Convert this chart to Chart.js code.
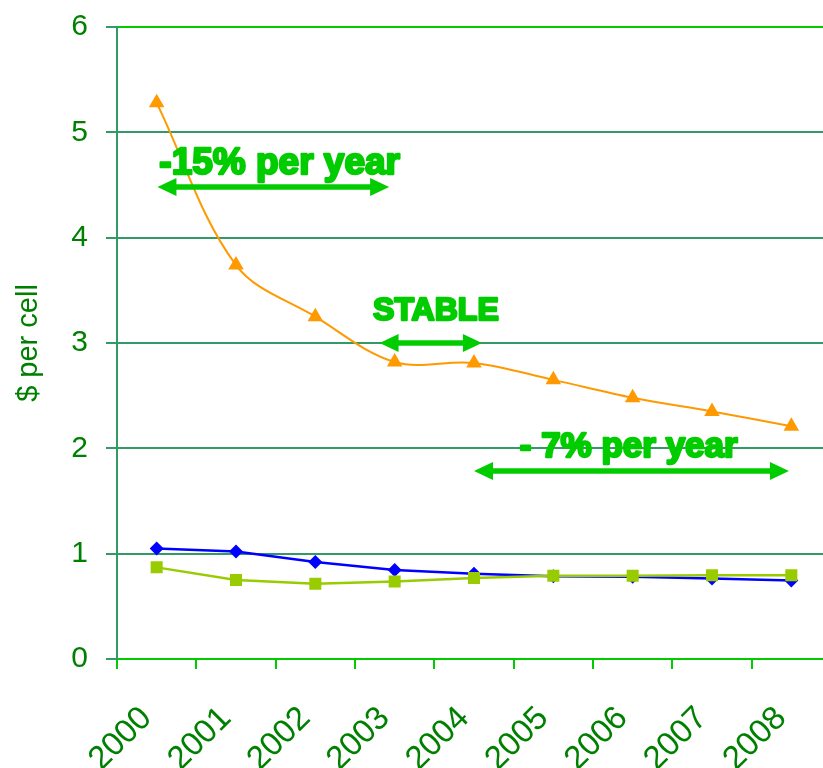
<!DOCTYPE html>
<html>
<head>
<meta charset="utf-8">
<script src="https://cdn.jsdelivr.net/npm/chart.js@4"></script>
<style>
html,body{margin:0;padding:0;background:#fff;overflow:hidden;width:823px;height:768px}
#wrap{position:absolute;left:0;top:0;width:840px;height:768px}
</style>
</head>
<body>
<div id="wrap"><canvas id="c" width="840" height="768"></canvas></div>
<script>
// ---- data ----
const years = ['2000','2001','2002','2003','2004','2005','2006','2007','2008'];
const seriesOrange = [5.28, 3.74, 3.25, 2.82, 2.81, 2.65, 2.48, 2.35, 2.21];
const seriesBlue   = [1.05, 1.02, 0.92, 0.845, 0.81, 0.785, 0.78, 0.765, 0.745];
const seriesGreen  = [0.87, 0.75, 0.715, 0.735, 0.77, 0.79, 0.79, 0.795, 0.795];
const yTicks = [0, 1, 2, 3, 4, 5, 6];
const yTitle = '$ per cell';
const noteTexts = ['-15% per year', 'STABLE', '- 7% per year'];

const GREEN = '#00CC00';
const TEAL = '#339966';
const LABEL = '#008000';

// annotation placement (in data coordinates: category index, value)
const notePlacement = [
  {tx: 1.55, ty: 4.60, size: 37, a0: 0.01, a1: 2.93, ay: 4.48},
  {tx: 3.52, ty: 3.22, size: 32, a0: 2.81, a1: 4.10, ay: 3.00},
  {tx: 5.95, ty: 1.92, size: 35, a0: 4.00, a1: 7.97, ay: 1.785}
];

const arrowNotes = {
  id: 'arrowNotes',
  afterDatasetsDraw(chart) {
    const {ctx, scales: {x, y}} = chart;
    ctx.save();
    notePlacement.forEach((p, i) => {
      const x0 = x.getPixelForValue(p.a0), x1 = x.getPixelForValue(p.a1), py = y.getPixelForValue(p.ay);
      const hl = 19, hw = 9;
      ctx.strokeStyle = GREEN; ctx.fillStyle = GREEN;
      ctx.lineWidth = 5.5; ctx.lineCap = 'butt';
      ctx.beginPath(); ctx.moveTo(x0 + hl - 2, py); ctx.lineTo(x1 - hl + 2, py); ctx.stroke();
      ctx.beginPath(); ctx.moveTo(x0, py); ctx.lineTo(x0 + hl, py - hw); ctx.lineTo(x0 + hl, py + hw); ctx.closePath(); ctx.fill();
      ctx.beginPath(); ctx.moveTo(x1, py); ctx.lineTo(x1 - hl, py - hw); ctx.lineTo(x1 - hl, py + hw); ctx.closePath(); ctx.fill();
      ctx.font = 'bold ' + p.size + 'px "Liberation Sans", Arial, sans-serif';
      ctx.textAlign = 'center'; ctx.textBaseline = 'alphabetic';
      ctx.lineWidth = 2.4; ctx.lineJoin = 'round';
      const tx = x.getPixelForValue(p.tx), ty = y.getPixelForValue(p.ty);
      ctx.fillText(noteTexts[i], tx, ty);
      ctx.strokeText(noteTexts[i], tx, ty);
    });
    ctx.restore();
  }
};

const edgeColor = c => (c.tick && (c.tick.value === 6 || c.tick.value === 0)) ? GREEN : TEAL;

new Chart(document.getElementById('c'), {
  type: 'line',
  data: {
    labels: years,
    datasets: [
      {label: 'orange', data: seriesOrange, borderColor: '#FF9900', backgroundColor: '#FF9900',
       borderWidth: 2, pointStyle: 'triangle', pointRadius: 9, pointBorderWidth: 0, tension: 0.35, order: 1},
      {label: 'green', data: seriesGreen, borderColor: '#99CC00', backgroundColor: '#99CC00',
       borderWidth: 2.5, pointStyle: 'rect', pointRadius: 8.5, pointBorderWidth: 0, tension: 0, order: 2},
      {label: 'blue', data: seriesBlue, borderColor: '#0000FF', backgroundColor: '#0000FF',
       borderWidth: 2.5, pointStyle: 'rectRot', pointRadius: 7, pointBorderWidth: 0, tension: 0, order: 3}
    ]
  },
  options: {
    responsive: false,
    animation: false,
    layout: {padding: {top: 27, right: 4, bottom: 0, left: 0}},
    plugins: {legend: {display: false}, tooltip: {enabled: false}},
    scales: {
      x: {
        type: 'category',
        offset: true,
        grid: {offset: true, drawOnChartArea: false, drawTicks: true, tickLength: 10, color: GREEN, lineWidth: 2},
        border: {color: GREEN, width: 2},
        ticks: {color: LABEL, font: {family: '"Liberation Sans", Arial, sans-serif', size: 33},
                minRotation: 45, maxRotation: 45, autoSkip: false, padding: 30, labelOffset: -10},
        afterFit(s) { s.height = 109; s.paddingLeft = 0; s.paddingRight = 0; }
      },
      y: {
        min: 0, max: 6,
        afterBuildTicks(s) { s.ticks = yTicks.map(v => ({value: v})); },
        ticks: {color: LABEL, font: {family: '"Liberation Sans", Arial, sans-serif', size: 30}, padding: 18},
        grid: {color: edgeColor, tickColor: TEAL, tickLength: 11, lineWidth: 2},
        border: {color: TEAL, width: 2},
        title: {display: true, text: yTitle, color: LABEL,
                font: {family: '"Liberation Sans", Arial, sans-serif', size: 29}, padding: {top: 12, bottom: 0}},
        afterFit(s) { s.width = 117; s.paddingTop = 0; s.paddingBottom = 0; }
      }
    }
  },
  plugins: [arrowNotes]
});
</script>
</body>
</html>
